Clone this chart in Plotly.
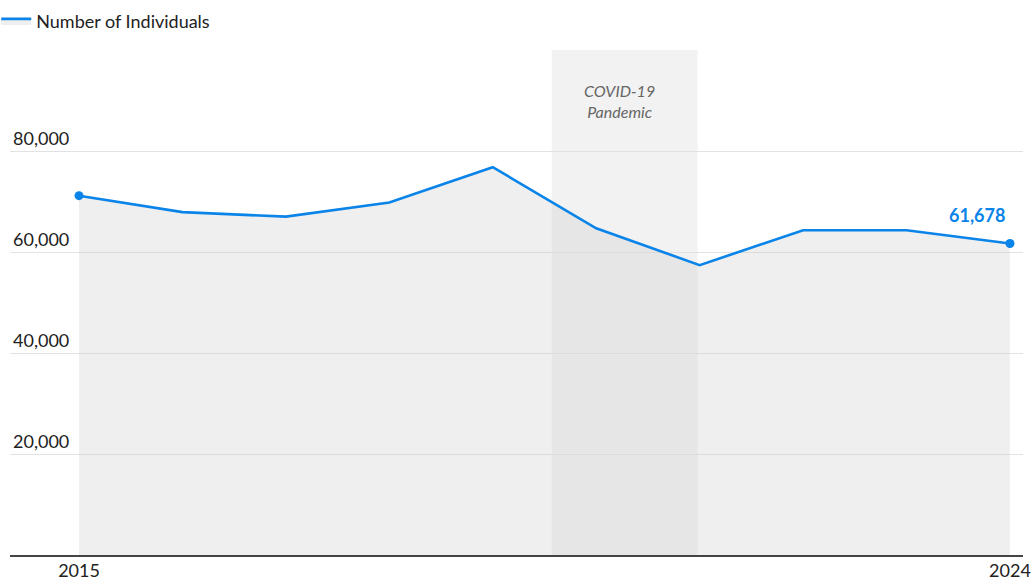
import plotly.graph_objects as go

# Annual count of individuals
years = [2015, 2016, 2017, 2018, 2019, 2020, 2021, 2022, 2023, 2024]
individuals = [71150, 67900, 67000, 69800, 76800, 64700, 57400, 64300, 64300, 61678]

# Pandemic period shown as a shaded band
covid_start = 2019.57
covid_end = 2020.98
covid_label = "COVID-19<br>Pandemic"

y_ticks = [20000, 40000, 60000, 80000]
x_ticks = [2015, 2024]

BLUE = "#0a84e8"
FONT = "Lato, 'Open Sans', sans-serif"

fig = go.Figure()

fig.add_trace(go.Scatter(
    x=years, y=individuals,
    mode="lines",
    name="Number of Individuals",
    line=dict(color=BLUE, width=2.6),
    fill="tozeroy",
    fillcolor="rgba(200,200,200,0.29)",
    hoverinfo="x+y",
))

# Endpoint markers
fig.add_trace(go.Scatter(
    x=[years[0], years[-1]], y=[individuals[0], individuals[-1]],
    mode="markers",
    marker=dict(color=BLUE, size=9),
    showlegend=False,
    hoverinfo="skip",
))

fig.add_shape(
    type="rect", xref="x", yref="paper",
    x0=covid_start, x1=covid_end, y0=0, y1=1,
    fillcolor="#f2f2f2", line=dict(width=0), layer="below",
)

fig.add_annotation(
    x=(covid_start + covid_end) / 2, y=90000,
    xshift=-5,
    text="<i>COVID-19</i><br><i>Pandemic</i>", showarrow=False,
    font=dict(family=FONT, size=16, color="#666666"),
    xanchor="center", yanchor="middle",
)

fig.add_annotation(
    x=years[-1], y=individuals[-1],
    text=f"<b>{individuals[-1]:,}</b>", showarrow=False,
    font=dict(family=FONT, size=18, color=BLUE),
    xanchor="right", yanchor="bottom",
    xshift=-3, yshift=16,
)

fig.update_layout(
    width=1031, height=581,
    margin=dict(l=10, r=8, t=50, b=26, autoexpand=False),
    paper_bgcolor="white",
    plot_bgcolor="white",
    font=dict(family=FONT, size=18, color="#222222"),
    showlegend=True,
    legend=dict(
        orientation="h",
        x=-0.0136, xanchor="left",
        y=1.057, yanchor="middle",
        font=dict(family=FONT, size=18, color="#222222"),
        bgcolor="rgba(0,0,0,0)",
    ),
    xaxis=dict(
        range=[2014.333, 2024.126],
        tickvals=x_ticks,
        ticktext=[str(v) for v in x_ticks],
        showgrid=False,
        zeroline=False,
        showline=True,
        linecolor="#444444",
        linewidth=2,
        ticks="",
        ticklabelstandoff=-2,
        automargin=False,
        tickfont=dict(family=FONT, size=18, color="#222222"),
        fixedrange=True,
    ),
    yaxis=dict(
        range=[0, 100000],
        tickvals=y_ticks,
        tickformat=",",
        ticklabelposition="inside top",
        showgrid=True,
        gridcolor="#e2e2e2",
        gridwidth=1,
        zeroline=False,
        showline=False,
        ticks="",
        automargin=False,
        tickfont=dict(family=FONT, size=18, color="#222222"),
        fixedrange=True,
    ),
)

fig.write_html("out.html")
